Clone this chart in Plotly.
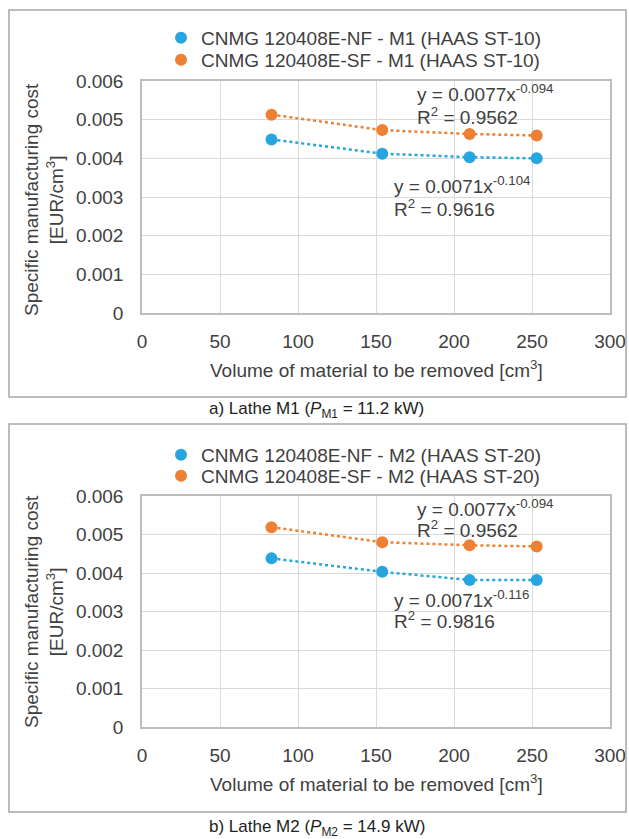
import plotly.graph_objects as go

# ---------------- data ----------------
volume = [83, 154, 210, 253]
nf_m1 = [0.00449, 0.00412, 0.00403, 0.00400]
sf_m1 = [0.00513, 0.00473, 0.00463, 0.00459]
nf_m2 = [0.00438, 0.00403, 0.00382, 0.00382]
sf_m2 = [0.00519, 0.00480, 0.00472, 0.00469]

names_m1 = ["CNMG 120408E-NF - M1 (HAAS ST-10)", "CNMG 120408E-SF - M1 (HAAS ST-10)"]
names_m2 = ["CNMG 120408E-NF - M2 (HAAS ST-20)", "CNMG 120408E-SF - M2 (HAAS ST-20)"]

eq_sf_m1 = ["0.0077", "-0.094", "0.9562"]
eq_nf_m1 = ["0.0071", "-0.104", "0.9616"]
eq_sf_m2 = ["0.0077", "-0.094", "0.9562"]
eq_nf_m2 = ["0.0071", "-0.116", "0.9816"]

x_ticks = [0, 50, 100, 150, 200, 250, 300]
y_ticks = [0, 0.001, 0.002, 0.003, 0.004, 0.005, 0.006]
y_ticktext = ["0", "0.001", "0.002", "0.003", "0.004", "0.005", "0.006"]

captions = ["a) Lathe M1 (<i>P</i><sub>M1</sub> = 11.2 kW)",
            "b) Lathe M2 (<i>P</i><sub>M2</sub> = 14.9 kW)"]

# ---------------- styling ----------------
W, H = 629, 839
BLUE = "#27a5de"
ORANGE = "#ee8033"
TXT = "#404040"
FONT = "Liberation Sans, Arial, sans-serif"
FS = 19

def px(x):
    return x / W

def py(y):
    return 1 - y / H

fig = go.Figure()

panels = [
    dict(xa="x", ya="y", nf=nf_m1, sf=sf_m1, names=names_m1, legs=("legend", "legend2")),
    dict(xa="x2", ya="y2", nf=nf_m2, sf=sf_m2, names=names_m2, legs=("legend3", "legend4")),
]

for p in panels:
    for vals, color, name, leg in [(p["nf"], BLUE, p["names"][0], p["legs"][0]),
                                   (p["sf"], ORANGE, p["names"][1], p["legs"][1])]:
        fig.add_trace(go.Scatter(
            x=volume, y=vals, mode="lines", xaxis=p["xa"], yaxis=p["ya"],
            line=dict(color=color, width=2.5, dash="dot"), showlegend=False,
            hoverinfo="skip"))
        fig.add_trace(go.Scatter(
            x=volume, y=vals, mode="markers", xaxis=p["xa"], yaxis=p["ya"],
            marker=dict(color=color, size=12), name=name, legend=leg))

axis_common = dict(
    showgrid=True, gridcolor="#d9d9d9", gridwidth=1,
    showline=True, linecolor="#bdbdbd", linewidth=1.5, mirror=True,
    zeroline=False, ticks="", automargin=False,
    tickfont=dict(family=FONT, size=FS, color=TXT),
)

def leg(yc):
    return dict(x=px(161), y=py(yc), xanchor="left", yanchor="middle",
                bgcolor="rgba(0,0,0,0)", borderwidth=0,
                font=dict(family=FONT, size=FS, color=TXT), itemsizing="constant")

fig.update_layout(
    width=W, height=H,
    margin=dict(l=0, r=0, t=0, b=0, autoexpand=False),
    paper_bgcolor="white", plot_bgcolor="white",
    font=dict(family=FONT, size=FS, color=TXT),
    xaxis=dict(domain=[px(142), px(610)], range=[0, 300], tickvals=x_ticks,
               anchor="y", ticklabelstandoff=10, **axis_common),
    yaxis=dict(domain=[py(313), py(81)], range=[0, 0.006], tickvals=y_ticks,
               ticktext=y_ticktext, anchor="x", ticklabelstandoff=13, **axis_common),
    xaxis2=dict(domain=[px(142), px(610)], range=[0, 300], tickvals=x_ticks,
                anchor="y2", ticklabelstandoff=10, **axis_common),
    yaxis2=dict(domain=[py(727), py(496)], range=[0, 0.006], tickvals=y_ticks,
                ticktext=y_ticktext, anchor="x2", ticklabelstandoff=13, **axis_common),
    legend=leg(38), legend2=leg(60), legend3=leg(455), legend4=leg(476),
)

# frames around each panel
for top, bottom in [(10, 397), (424, 812)]:
    fig.add_shape(type="rect", xref="paper", yref="paper",
                  x0=px(9), x1=px(626), y0=py(bottom), y1=py(top),
                  line=dict(color="#a6a6a6", width=1.5), fillcolor="rgba(0,0,0,0)")

ann = []
# axis titles
for yc in [200, 612]:
    ann.append(dict(x=px(44), y=py(yc), xref="paper", yref="paper",
                    text="Specific manufacturing cost<br>[EUR/cm<sup>3</sup>]",
                    textangle=-90, showarrow=False, xanchor="center", yanchor="middle",
                    font=dict(family=FONT, size=FS, color=TXT)))
for yc in [369, 783]:
    ann.append(dict(x=px(376), y=py(yc), xref="paper", yref="paper",
                    text="Volume of material to be removed [cm<sup>3</sup>]",
                    showarrow=False, xanchor="center", yanchor="middle",
                    font=dict(family=FONT, size=FS, color=TXT)))
# captions
for yc, cap in zip([410, 828], captions):
    ann.append(dict(x=px(317), y=py(yc), xref="paper", yref="paper", text=cap,
                    showarrow=False, xanchor="center", yanchor="middle",
                    font=dict(family=FONT, size=17, color="#222222")))

# trendline equations (data coordinates)
def eq(xr, yr, x, y1, y2, e):
    ann.append(dict(x=x, y=y1, xref=xr, yref=yr, showarrow=False,
                    xanchor="left", yanchor="middle",
                    text="y = %sx<sup>%s</sup>" % (e[0], e[1]),
                    font=dict(family=FONT, size=FS, color=TXT)))
    ann.append(dict(x=x, y=y2, xref=xr, yref=yr, showarrow=False,
                    xanchor="left", yanchor="middle",
                    text="R<sup>2</sup> = %s" % e[2],
                    font=dict(family=FONT, size=FS, color=TXT)))

eq("x", "y", 175, 0.00568, 0.00510, eq_sf_m1)
eq("x", "y", 160, 0.00330, 0.00271, eq_nf_m1)
eq("x2", "y2", 175, 0.00569, 0.00514, eq_sf_m2)
eq("x2", "y2", 160, 0.00333, 0.00278, eq_nf_m2)

fig.update_layout(annotations=ann)

fig.write_html("out.html", config={"displayModeBar": False},
               post_script="document.body.style.margin='0';document.body.style.overflow='hidden';")
